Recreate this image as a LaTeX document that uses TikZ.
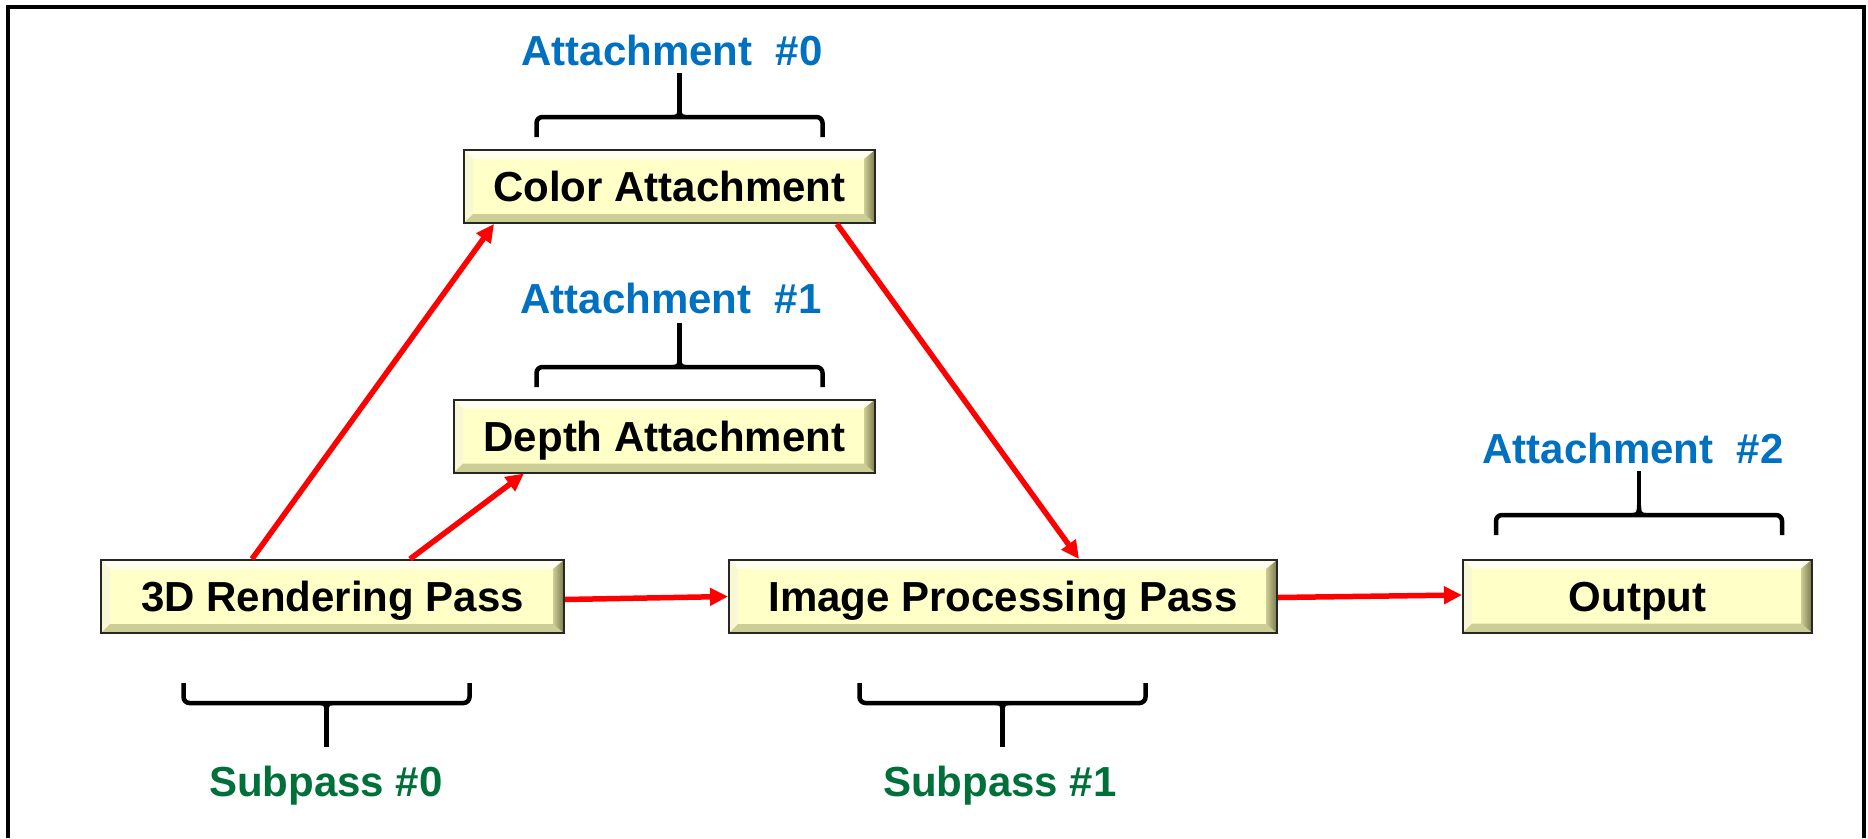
\documentclass[tikz,border=0pt]{standalone}
\usepackage{fontspec}
\setmainfont{Liberation Sans}
\usetikzlibrary{arrows.meta,calc}
\definecolor{attblue}{RGB}{0,112,192}
\definecolor{subgreen}{RGB}{0,112,58}
\definecolor{boxface}{RGB}{255,255,200}
\definecolor{bevtop}{RGB}{255,255,240}
\definecolor{bevleft}{RGB}{248,248,212}
\definecolor{bevbot}{RGB}{205,205,150}
\definecolor{bevrightA}{RGB}{205,205,150}
\definecolor{bevrightB}{RGB}{120,120,75}
\definecolor{arrowred}{RGB}{255,0,0}
\tikzset{
  stagebox/.style={draw=black!85, line width=2pt, fill=boxface, inner sep=0pt,
    minimum height=73pt, text height=30pt, text depth=0pt,
    font=\fontsize{42}{50}\selectfont\bfseries,
    path picture={
      \coordinate (bl) at (path picture bounding box.south west);
      \coordinate (tr) at (path picture bounding box.north east);
      \coordinate (tl) at (path picture bounding box.north west);
      \coordinate (br) at (path picture bounding box.south east);
      \coordinate (itl) at ($(tl)+(9pt,-9pt)$);
      \coordinate (itr) at ($(tr)+(-11pt,-9pt)$);
      \coordinate (ibl) at ($(bl)+(9pt,9pt)$);
      \coordinate (ibr) at ($(br)+(-11pt,9pt)$);
      \fill[bevtop] (tl) -- (tr) -- (itr) -- (itl) -- cycle;
      \fill[bevleft] (tl) -- (itl) -- (ibl) -- (bl) -- cycle;
      \fill[bevbot] (bl) -- (ibl) -- (ibr) -- (br) -- cycle;
      \shade[left color=bevrightA, right color=bevrightB] (tr) -- (itr) -- (ibr) -- (br) -- cycle;
    }},
  attlabel/.style={anchor=base, text=attblue, inner sep=0pt,
    font=\fontsize{42}{50}\selectfont\bfseries},
  sublabel/.style={anchor=base, text=subgreen, inner sep=0pt,
    font=\fontsize{42}{50}\selectfont\bfseries},
  redarrow/.style={draw=arrowred, line width=5.5pt,
    -{Triangle[length=18pt,width=17pt]}},
  bracepen/.style={draw=black, line width=4.5pt},
  brace/.pic={
    \draw[bracepen, rounded corners=6pt] (-143,20) -- (-143,0) -- (143,0) -- (143,20);
    \draw[bracepen] (0,0) -- (0,-44);
    \fill[black] (-7,-2) .. controls (-2,-2) and (-2.2,-4) .. (-2.2,-10) -- (2.2,-10) .. controls (2.2,-4) and (2,-2) .. (7,-2) -- cycle;
  }
}
\begin{document}
\begin{tikzpicture}[x=1pt,y=-1pt]
\useasboundingbox (0,0) rectangle (1868,838);
\fill[white] (0,0) rectangle (1868,838);
% frame
\draw[line width=4pt] (8,838) -- (8,7) -- (1864,7) -- (1864,838);

% boxes
\node[stagebox, minimum width=411pt] (color) at (669.5,186.5) {Color Attachment};
\node[stagebox, minimum width=421pt] (depth) at (664.5,436) {Depth Attachment};
\node[stagebox, minimum width=463pt] (r3d) at (332.5,596.5) {3D Rendering Pass};
\node[stagebox, minimum width=548pt] (img) at (1003,596.5) {Image Processing Pass};
\node[stagebox, minimum width=349pt] (out) at (1637.5,596) {Output};

% labels
\node[attlabel] (att0) at (672,65) {Attachment\ \ \#0};
\node[attlabel] (att1) at (671,313) {Attachment\ \ \#1};
\node[attlabel] (att2) at (1633,463) {Attachment\ \ \#2};
\node[sublabel] (sub0) at (326,796) {Subpass \#0};
\node[sublabel] (sub1) at (1000,796) {Subpass \#1};

% braces
\pic at (679.5,117) {brace};
\pic at (679.5,367) {brace};
\pic at (1639,515) {brace};
\pic[yscale=-1] at (326.5,703) {brace};
\pic[yscale=-1] at (1002.5,703) {brace};

% arrows
\draw[redarrow] ($(r3d.north west)+(152,0)$) -- ($(color.south west)+(31,0)$);
\draw[redarrow] ($(r3d.north west)+(310,0)$) -- ($(depth.south west)+(71,0)$);
\draw[redarrow] ($(r3d.east)+(0,3)$) -- (img.west);
\draw[redarrow] ($(color.south west)+(374,0)$) -- ($(img.north west)+(351,0)$);
\draw[redarrow] ($(img.east)+(0,1)$) -- ($(out.west)+(0,-1)$);
\end{tikzpicture}
\end{document}
